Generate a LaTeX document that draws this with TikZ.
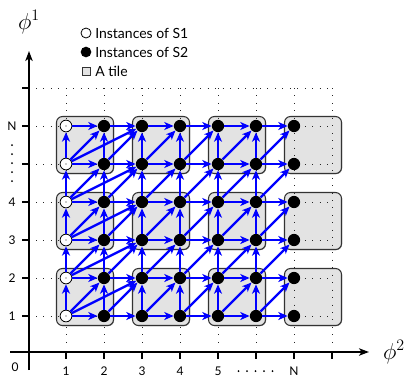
\documentclass[tikz,border=0pt]{standalone}
\usepackage{fontspec}
\setmainfont{Lato}
\usetikzlibrary{arrows.meta,shadows}
\begin{document}
\begin{tikzpicture}[x=0.75pt,y=-0.75pt,
  axis/.style={line width=1.5pt},
  axtip/.style={-{Stealth[length=7.5pt,width=5.5pt,inset=2pt]}},
  tick/.style={line width=1.2pt},
  gridline/.style={line width=0.7pt, black!85, dash pattern=on 0.7pt off 4.9pt},
  tile/.style={fill=black!11, draw=black!80, line width=0.8pt, rounded corners=4.5pt,
    drop shadow={shadow xshift=0.5pt,shadow yshift=-0.5pt,opacity=0.6,fill=black!70}},
  sone/.style={circle, draw=black, fill=white, line width=0.6pt, minimum size=8.8pt, inner sep=0pt},
  stwo/.style={circle, fill=black, minimum size=9.2pt, inner sep=0pt},
  dep/.style={blue, line width=1.8pt, -{Stealth[length=7pt,width=6pt,inset=2pt]}},
  lbl/.style={font=\fontsize{9}{10}\selectfont, inner sep=0pt},
  leg/.style={font=\fontsize{10.5}{12}\selectfont, inner sep=0pt, anchor=west},
  phil/.style={font=\fontsize{17}{20}\selectfont, inner sep=0pt}
]
\useasboundingbox (0,0) rectangle (409,376);

% tiles
\foreach \cx in {66,142,218,294}
  \foreach \cy in {316,240,164}
    \draw[tile] ({\cx-9.5},{\cy+9.5}) rectangle ({\cx+47.5},{\cy-47.5});

% dotted grid
\foreach \y in {88,126,164,202,240,278,316}
  \draw[gridline] (36,\y) -- (332,\y);
\foreach \x in {66,104,142,180,218,256,294,332}
  \draw[gridline] (\x,88) -- (\x,346);

% axes
\coordinate (ybot) at (29,370);
\coordinate (ytop) at (29,51);
\coordinate (xleft) at (10,352);
\coordinate (xright) at (369,352);
\draw[axis,axtip] (ybot) -- (ytop);
\draw[axis,axtip] (xleft) -- (xright);
\foreach \y in {88,126,164,202,240,278,316}
  \draw[tick] (22,\y) -- (29,\y);
\foreach \x in {66,104,142,180,218,256,294,332}
  \draw[tick] (\x,352) -- (\x,359);

% axis labels
\node[lbl] (l0) at (15,367) {0};
\node[lbl] (ly1) at (12,316) {1};
\node[lbl] (ly2) at (12,278) {2};
\node[lbl] (ly3) at (12,240) {3};
\node[lbl] (ly4) at (12,202) {4};
\node[lbl] (lyN) at (12,126) {N};
\foreach \y in {145,154,163,172,181}
  \fill (12,\y) circle (0.75pt);
\node[lbl] (lx1) at (66,371) {1};
\node[lbl] (lx2) at (104,371) {2};
\node[lbl] (lx3) at (142,371) {3};
\node[lbl] (lx4) at (180,371) {4};
\node[lbl] (lx5) at (218,371) {5};
\node[lbl] (lxN) at (294,371) {N};
\foreach \x in {238.5,247,255.5,264,272.5}
  \fill (\x,371) circle (0.75pt);

\node[phil] (phi1) at (29,22) {$\phi^1$};
\node[phil] (phi2) at (394,352) {$\phi^2$};

% legend
\node[sone, minimum size=7.5pt] (lg1) at (86,33) {};
\node[leg] (lt1) at (95,33) {Instances of S1};
\node[stwo, minimum size=8pt] (lg2) at (86,52) {};
\node[leg] (lt2) at (95,52) {Instances of S2};
\node[draw=black!80, fill=black!11, line width=0.6pt, minimum size=6pt, inner sep=0pt] (lg3) at (86,71) {};
\node[leg] (lt3) at (95,71) {A tile};

% points
\foreach \i in {1,...,7}
  \foreach \j in {1,...,6} {
    \pgfmathsetmacro{\px}{66+38*(\i-1)}
    \pgfmathsetmacro{\py}{316-38*(\j-1)}
    \ifnum\i=1
      \node[sone] (p-\i-\j) at (\px,\py) {};
      \fill[black!85] (\px,\py) circle (0.45pt);
    \else
      \node[stwo] (p-\i-\j) at (\px,\py) {};
    \fi
  }

% dependences
\foreach \i in {1,...,6}
  \foreach \j in {1,...,6} {
    \pgfmathtruncatemacro{\ni}{\i+1}
    \draw[dep] (p-\i-\j) -- (p-\ni-\j);
  }
\foreach \i in {1,...,6}
  \foreach \j in {1,...,5} {
    \pgfmathtruncatemacro{\ni}{\i+1}
    \pgfmathtruncatemacro{\nj}{\j+1}
    \draw[dep] (p-\i-\j) -- (p-\i-\nj);
    \draw[dep] (p-\i-\j) -- (p-\ni-\nj);
  }
\foreach \j in {1,...,5} {
  \pgfmathtruncatemacro{\nj}{\j+1}
  \draw[dep] (p-1-\j) -- (p-3-\nj);
}
\end{tikzpicture}
\end{document}
